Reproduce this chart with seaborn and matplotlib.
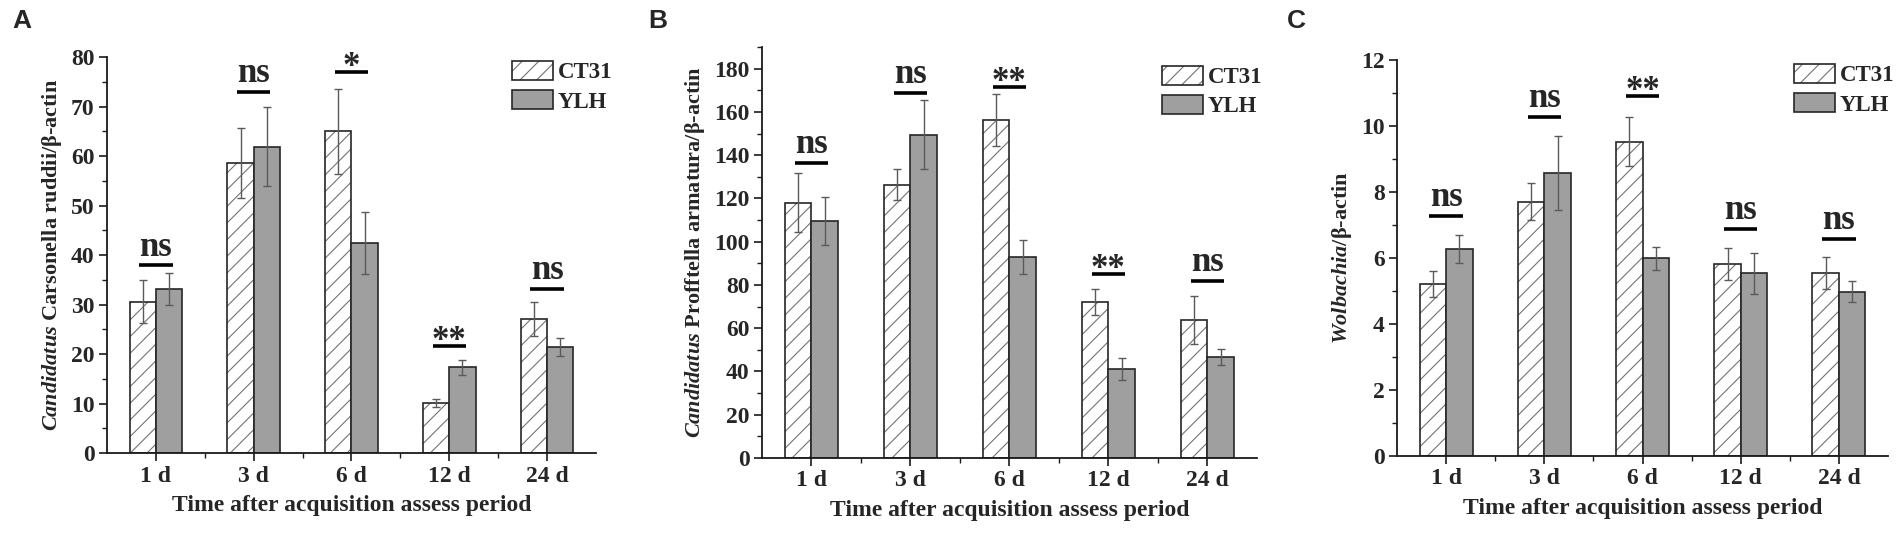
import pandas as pd
import numpy as np
import matplotlib.pyplot as plt
import seaborn as sns
from matplotlib.ticker import MultipleLocator, FixedLocator

# Data
times = ['1 d', '3 d', '6 d', '12 d', '24 d']
strains = ['CT31', 'YLH']

a_ct31 = [30.6, 58.6, 65.0, 10.1, 27.1]
a_ct31_err = [4.4, 7.0, 8.6, 0.9, 3.4]
a_ylh = [33.2, 61.9, 42.4, 17.3, 21.4]
a_ylh_err = [3.2, 8.0, 6.2, 1.5, 1.8]
a_sig = ['ns', 'ns', '*', '**', 'ns']
a_sig_y = [37.9, 72.9, 77.0, 21.7, 33.2]

b_ct31 = [118.0, 126.4, 156.1, 72.2, 63.6]
b_ct31_err = [13.7, 7.3, 12.0, 6.0, 11.1]
b_ylh = [109.7, 149.5, 93.0, 41.0, 46.7]
b_ylh_err = [11.1, 16.0, 7.8, 5.1, 3.7]
b_sig = ['ns', 'ns', '**', '**', 'ns']
b_sig_y = [136.3, 168.9, 171.7, 85.1, 81.9]

c_ct31 = [5.22, 7.70, 9.53, 5.82, 5.54]
c_ct31_err = [0.39, 0.56, 0.75, 0.49, 0.49]
c_ylh = [6.28, 8.58, 5.99, 5.54, 4.98]
c_ylh_err = [0.43, 1.12, 0.35, 0.62, 0.31]
c_sig = ['ns', 'ns', '**', 'ns', 'ns']
c_sig_y = [7.28, 10.27, 10.9, 6.89, 6.58]

sns.set_style('ticks')
plt.rcParams['font.family'] = ['Liberation Serif', 'DejaVu Serif']
plt.rcParams['font.weight'] = 'bold'
plt.rcParams['axes.labelweight'] = 'bold'
plt.rcParams['mathtext.fontset'] = 'custom'
plt.rcParams['mathtext.it'] = 'Liberation Serif:italic:bold'
plt.rcParams['mathtext.rm'] = 'Liberation Serif:bold'
plt.rcParams['hatch.linewidth'] = 0.8

fig = plt.figure(figsize=(19.01, 5.4), dpi=100)

panels = [
    dict(pos=[0.0563, 0.1611, 0.2572, 0.7333], ct=a_ct31, ct_err=a_ct31_err, ylh=a_ylh, ylh_err=a_ylh_err,
         sig=a_sig, sig_y=a_sig_y, ylim=80, major=10, minor=5,
         ylabel='$\\mathit{Candidatus}$ Carsonella ruddii/β-actin', leg=(1.033, 0.99), letter='A', lx=12),
    dict(pos=[0.4008, 0.1519, 0.2604, 0.7610], ct=b_ct31, ct_err=b_ct31_err, ylh=b_ylh, ylh_err=b_ylh_err,
         sig=b_sig, sig_y=b_sig_y, ylim=190, major=20, minor=10,
         ylabel='$\\mathit{Candidatus}$ Profftella armatura/β-actin', leg=(1.01, 0.955), letter='B', lx=648),
    dict(pos=[0.7349, 0.1556, 0.2583, 0.7333], ct=c_ct31, ct_err=c_ct31_err, ylh=c_ylh, ylh_err=c_ylh_err,
         sig=c_sig, sig_y=c_sig_y, ylim=12, major=2, minor=1,
         ylabel='$\\mathit{Wolbachia}$/β-actin', leg=(1.012, 0.99), letter='C', lx=1287),
]

for p in panels:
    ax = fig.add_axes(p['pos'])
    df = pd.DataFrame({
        'time': times * 2,
        'strain': ['CT31'] * 5 + ['YLH'] * 5,
        'value': p['ct'] + p['ylh'],
    })
    sns.barplot(data=df, x='time', y='value', hue='strain', order=times, hue_order=strains,
                palette={'CT31': 'white', 'YLH': '#9f9f9f'}, width=0.54, errorbar=None,
                edgecolor='#262626', linewidth=1.2, legend=False, ax=ax)

    # hatch on CT31 bars, lighter hatch lines than the outline
    for bar in ax.containers[0]:
        bar.set_hatch('//')
        bar._hatch_color = (0.45, 0.45, 0.45, 1.0)

    # error bars
    for cont, errs in zip(ax.containers, [p['ct_err'], p['ylh_err']]):
        xs = [b.get_x() + b.get_width() / 2 for b in cont]
        ys = [b.get_height() for b in cont]
        ax.errorbar(xs, ys, yerr=errs, fmt='none', ecolor='#5a5a5a', elinewidth=1.0,
                    capsize=3, capthick=1.0, zorder=4)

    # significance marks
    for i, (lab, y) in enumerate(zip(p['sig'], p['sig_y'])):
        ax.hlines(y, i - 0.17, i + 0.17, color='black', lw=2.6, zorder=5)
        off = 7 if lab == 'ns' else -3
        ax.annotate(lab, xy=(i, y), xytext=(0, off), textcoords='offset points',
                    ha='center', va='baseline', fontsize=25, fontweight='bold',
                    annotation_clip=False)

    ax.set_xlim(-0.5, 4.5)
    ax.set_ylim(0, p['ylim'])
    ax.yaxis.set_major_locator(MultipleLocator(p['major']))
    ax.yaxis.set_minor_locator(MultipleLocator(p['minor']))
    ax.xaxis.set_minor_locator(FixedLocator([0.5, 1.5, 2.5, 3.5]))
    sns.despine(ax=ax)
    for s in ['left', 'bottom']:
        ax.spines[s].set_linewidth(1.3)
        ax.spines[s].set_color('#1a1a1a')
    ax.tick_params(axis='both', which='major', direction='out', length=6, width=1.2,
                   labelsize=17, pad=3, color='#1a1a1a')
    ax.tick_params(axis='both', which='minor', direction='out', length=3.5, width=1.0,
                   color='#1a1a1a')
    ax.set_xlabel('Time after acquisition assess period', fontsize=17, fontweight='bold', labelpad=6)
    ax.set_ylabel(p['ylabel'], fontsize=16, fontweight='bold', labelpad=5)

    handles = [ax.containers[0][0], ax.containers[1][0]]
    ax.legend(handles, strains, loc='upper right', bbox_to_anchor=p['leg'], frameon=False,
              handlelength=1.8, handleheight=0.9, handletextpad=0.2,
              labelspacing=0.3, borderpad=0, borderaxespad=0,
              prop={'weight': 'bold', 'size': 16.5})

    fig.text(p['lx'] / 1901, 1 - 9 / 540, p['letter'], fontsize=19, fontweight='bold',
             family='Liberation Sans', ha='left', va='top')

fig.savefig('out.png', dpi=100)
